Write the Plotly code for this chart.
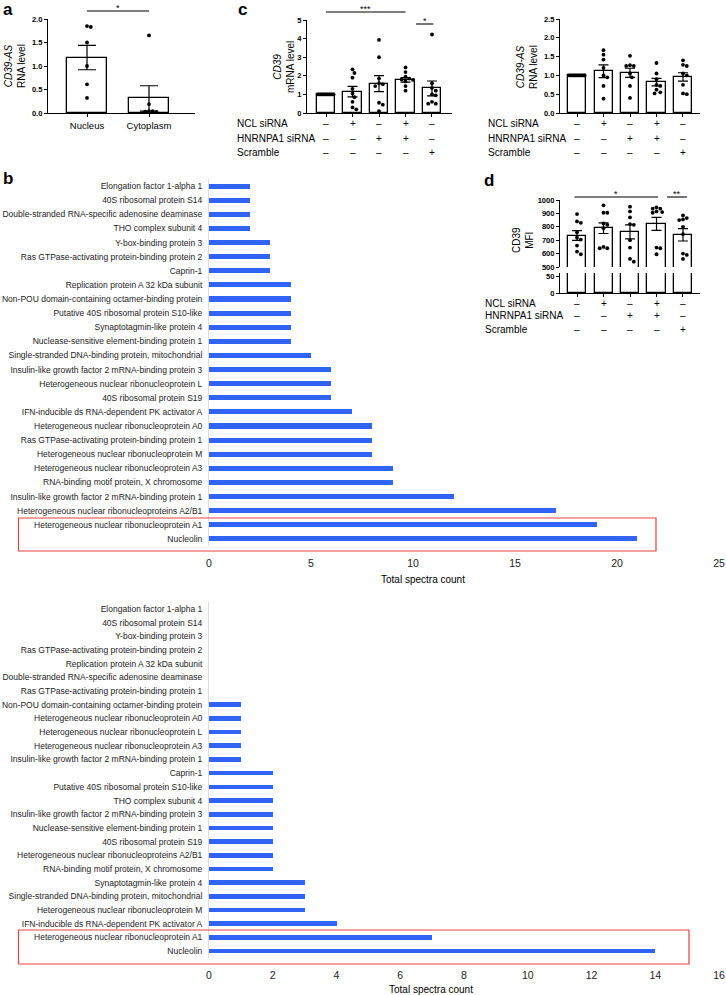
import plotly.graph_objects as go

W, H = 726, 995
FONT = "Liberation Sans"


def fx(p):
    return p / W


def fy(p):
    return 1 - p / H


# ---------------- data ----------------
a_groups = ["Nucleus", "Cytoplasm"]
a_means = [1.18, 0.31]
a_sem = [0.26, 0.27]
a_points = [[1.85, 1.83, 1.50, 1.00, 0.61, 0.32],
            [1.65, 0.19, 0.04, 0.03, 0.02, 0.04]]

row_labels = ["NCL siRNA", "HNRNPA1 siRNA", "Scramble"]
ncl_signs = ["–", "+", "–", "+", "–"]
hnr_signs = ["–", "–", "+", "+", "–"]
scr_signs = ["–", "–", "–", "–", "+"]

c1_means = [1.0, 1.15, 1.58, 1.78, 1.32]
c1_sem = [0.0, 0.28, 0.43, 0.12, 0.40]
c1_points = [[1.0] * 9,
             [2.35, 2.15, 1.90, 1.30, 1.05, 0.85, 0.60, 0.30, 0.20],
             [3.93, 3.00, 1.85, 1.60, 1.55, 1.45, 0.55, 0.45, 0.10],
             [2.45, 2.20, 1.95, 1.85, 1.80, 1.78, 1.70, 1.45, 1.20],
             [4.22, 1.60, 1.35, 1.20, 1.00, 0.95, 0.60, 0.50, 0.50]]

c2_means = [1.0, 1.11, 1.07, 0.82, 0.96]
c2_sem = [0.0, 0.17, 0.12, 0.10, 0.11]
c2_points = [[1.0] * 9,
             [1.67, 1.55, 1.42, 1.20, 1.00, 0.95, 0.72, 0.38],
             [1.52, 1.27, 1.25, 1.25, 1.05, 0.95, 0.72, 0.40],
             [1.33, 1.05, 0.90, 0.75, 0.72, 0.62, 0.55, 0.52],
             [1.40, 1.28, 1.25, 1.05, 1.00, 0.75, 0.52, 0.50]]

d_means = [735, 790, 762, 822, 740]
d_sem = [36, 40, 52, 48, 46]
d_points = [[895, 840, 830, 760, 720, 705, 660, 615, 595],
            [960, 905, 905, 825, 815, 790, 650, 640, 640],
            [950, 915, 870, 820, 815, 700, 645, 560, 540],
            [945, 935, 935, 915, 910, 905, 645, 640, 595],
            [885, 865, 855, 850, 800, 745, 600, 590, 560]]

b_top_proteins = [
    "Elongation factor 1-alpha 1", "40S ribosomal protein S14",
    "Double-stranded RNA-specific adenosine deaminase", "THO complex subunit 4",
    "Y-box-binding protein 3", "Ras GTPase-activating protein-binding protein 2",
    "Caprin-1", "Replication protein A 32 kDa subunit",
    "Non-POU domain-containing octamer-binding protein",
    "Putative 40S ribosomal protein S10-like", "Synaptotagmin-like protein 4",
    "Nuclease-sensitive element-binding protein 1",
    "Single-stranded DNA-binding protein, mitochondrial",
    "Insulin-like growth factor 2 mRNA-binding protein 3",
    "Heterogeneous nuclear ribonucleoprotein L", "40S ribosomal protein S19",
    "IFN-inducible ds RNA-dependent PK activator A",
    "Heterogeneous nuclear ribonucleoprotein A0",
    "Ras GTPase-activating protein-binding protein 1",
    "Heterogeneous nuclear ribonucleoprotein M",
    "Heterogeneous nuclear ribonucleoprotein A3",
    "RNA-binding motif protein, X chromosome",
    "Insulin-like growth factor 2 mRNA-binding protein 1",
    "Heterogeneous nuclear ribonucleoproteins A2/B1",
    "Heterogeneous nuclear ribonucleoprotein A1", "Nucleolin"]
b_top_counts = [2, 2, 2, 2, 3, 3, 3, 4, 4, 4, 4, 4, 5, 6, 6, 6, 7, 8, 8, 8,
                9, 9, 12, 17, 19, 21]

b_bot_proteins = [
    "Elongation factor 1-alpha 1", "40S ribosomal protein S14",
    "Y-box-binding protein 3", "Ras GTPase-activating protein-binding protein 2",
    "Replication protein A 32 kDa subunit",
    "Double-stranded RNA-specific adenosine deaminase",
    "Ras GTPase-activating protein-binding protein 1",
    "Non-POU domain-containing octamer-binding protein",
    "Heterogeneous nuclear ribonucleoprotein A0",
    "Heterogeneous nuclear ribonucleoprotein L",
    "Heterogeneous nuclear ribonucleoprotein A3",
    "Insulin-like growth factor 2 mRNA-binding protein 1",
    "Caprin-1", "Putative 40S ribosomal protein S10-like", "THO complex subunit 4",
    "Insulin-like growth factor 2 mRNA-binding protein 3",
    "Nuclease-sensitive element-binding protein 1", "40S ribosomal protein S19",
    "Heterogeneous nuclear ribonucleoproteins A2/B1",
    "RNA-binding motif protein, X chromosome", "Synaptotagmin-like protein 4",
    "Single-stranded DNA-binding protein, mitochondrial",
    "Heterogeneous nuclear ribonucleoprotein M",
    "IFN-inducible ds RNA-dependent PK activator A",
    "Heterogeneous nuclear ribonucleoprotein A1", "Nucleolin"]
b_bot_counts = [0, 0, 0, 0, 0, 0, 0, 1, 1, 1, 1, 1, 2, 2, 2, 2, 2, 2, 2, 2,
                3, 3, 3, 4, 7, 14]

BLUE = "#3063f6"


# ---------------- helpers ----------------
def swarm(values, px_per_unit, step=1.9, diam=3.8, maxoff=8.0):
    """Deterministic beeswarm offsets in pixels."""
    order = sorted(range(len(values)), key=lambda i: -values[i])
    placed = []
    res = [0.0] * len(values)
    cands = [0.0]
    k = 1
    while k * step <= maxoff + 1e-9:
        cands += [k * step, -k * step]
        k += 1
    for i in order:
        y = values[i] * px_per_unit
        chosen = None
        for o in cands:
            if all((o - px) ** 2 + (y - py) ** 2 >= diam ** 2 for px, py in placed):
                chosen = o
                break
        if chosen is None:
            best, bestd = 0.0, -1
            for o in cands:
                d = min([((o - px) ** 2 + (y - py) ** 2) for px, py in placed] or [1e9])
                if d > bestd:
                    best, bestd = o, d
            chosen = best
        placed.append((chosen, y))
        res[i] = chosen
    return res


fig = go.Figure()


def add_dot_panel(xa, ya, means, sems, points, px_cat, px_unit, bar_w, cap,
                  lower=None):
    n = len(means)
    xs = list(range(n))
    fig.add_trace(go.Bar(x=xs, y=means, width=bar_w, xaxis=xa, yaxis=ya,
                         marker=dict(color="white", line=dict(color="black", width=1.3)),
                         error_y=dict(type="data", array=sems, color="black",
                                      thickness=1.2, width=cap),
                         showlegend=False, hoverinfo="skip"))
    px_all, py_all = [], []
    for gi, vals in enumerate(points):
        offs = swarm(vals, px_unit)
        for v, o in zip(vals, offs):
            px_all.append(gi + o / px_cat)
            py_all.append(v)
    fig.add_trace(go.Scatter(x=px_all, y=py_all, mode="markers", xaxis=xa, yaxis=ya,
                             marker=dict(color="black", size=3.8),
                             showlegend=False, hoverinfo="skip"))
    if lower is not None:
        fig.add_trace(go.Bar(x=xs, y=means, width=bar_w, xaxis=lower[0], yaxis=lower[1],
                             marker=dict(color="white", line=dict(color="black", width=1.3)),
                             showlegend=False, hoverinfo="skip"))


# Panel a
add_dot_panel("x", "y", a_means, a_sem, a_points, 62, 47, 0.645, 9)
# Panel c (left)
add_dot_panel("x2", "y2", c1_means, c1_sem, c1_points, 26.5, 18.6, 0.68, 5)
# Panel c (right)
add_dot_panel("x3", "y3", c2_means, c2_sem, c2_points, 26.5, 37.6, 0.68, 5)
# Panel d
add_dot_panel("x4", "y4", d_means, d_sem, d_points, 26.5, 0.134, 0.68, 5,
              lower=("x5", "y5"))

# Panel b bars
fig.add_trace(go.Bar(x=b_top_counts, y=b_top_proteins, orientation="h", width=0.36,
                     marker=dict(color=BLUE, line=dict(width=0)), xaxis="x6", yaxis="y6",
                     showlegend=False, hoverinfo="skip"))
fig.add_trace(go.Bar(x=b_bot_counts, y=b_bot_proteins, orientation="h", width=0.34,
                     marker=dict(color=BLUE, line=dict(width=0)), xaxis="x7", yaxis="y7",
                     showlegend=False, hoverinfo="skip"))

# ---------------- axes ----------------
small_tick = dict(family=FONT, size=7.5, color="black", weight="bold")
base_x = dict(showline=True, linecolor="black", linewidth=1.2, ticks="outside",
              ticklen=3, tickwidth=1.1, tickcolor="black", showgrid=False,
              zeroline=False, fixedrange=True, automargin=False)
base_y = dict(showline=True, linecolor="black", linewidth=1.2, ticks="outside",
              ticklen=3, tickwidth=1.1, tickcolor="black", showgrid=False,
              zeroline=False, fixedrange=True, tickfont=small_tick, automargin=False)

layout = dict(
    width=W, height=H, margin=dict(l=0, r=0, t=0, b=0, autoexpand=False),
    paper_bgcolor="white", plot_bgcolor="rgba(0,0,0,0)",
    font=dict(family=FONT, color="black"), bargap=0, barmode="overlay",
    xaxis=dict(base_x, domain=[fx(48), fx(195)], range=[-0.629, 1.742], anchor="y",
               tickvals=[0, 1], ticktext=a_groups,
               tickfont=dict(family=FONT, size=9.5, color="black")),
    yaxis=dict(base_y, domain=[fy(113), fy(19)], range=[0, 2.0], anchor="x",
               tickvals=[0, 0.5, 1.0, 1.5, 2.0], tickformat=".1f"),
    xaxis2=dict(base_x, domain=[fx(307), fx(452)], range=[-0.717, 4.755], anchor="y2",
                tickvals=[0, 1, 2, 3, 4], showticklabels=False),
    yaxis2=dict(base_y, domain=[fy(113), fy(20)], range=[0, 5], anchor="x2",
                tickvals=[0, 1, 2, 3, 4, 5]),
    xaxis3=dict(base_x, domain=[fx(560), fx(700)], range=[-0.642, 4.642], anchor="y3",
                tickvals=[0, 1, 2, 3, 4], showticklabels=False),
    yaxis3=dict(base_y, domain=[fy(113), fy(19)], range=[0, 2.5], anchor="x3",
                tickvals=[0, 0.5, 1.0, 1.5, 2.0, 2.5], tickformat=".1f"),
    xaxis4=dict(domain=[fx(560), fx(700)], range=[-0.642, 4.642], anchor="y4",
                showline=False, showticklabels=False, ticks="", showgrid=False,
                zeroline=False, fixedrange=True, automargin=False),
    yaxis4=dict(base_y, domain=[fy(267), fy(200)], range=[500, 1000], anchor="x4",
                tickvals=[500, 600, 700, 800, 900, 1000]),
    xaxis5=dict(base_x, domain=[fx(560), fx(700)], range=[-0.642, 4.642], anchor="y5",
                tickvals=[0, 1, 2, 3, 4], showticklabels=False),
    yaxis5=dict(base_y, domain=[fy(293), fy(273)], range=[0, 60], anchor="x5",
                tickvals=[0, 50]),
    xaxis6=dict(domain=[fx(209), fx(719)], range=[0, 25], anchor="y6",
                tickvals=[0, 5, 10, 15, 20, 25], showline=False, ticks="",
                showgrid=False, zeroline=False, ticklabelstandoff=9, automargin=False,
                ticklabeloverflow="allow",
                tickfont=dict(family=FONT, size=10.5, color="#222"), fixedrange=True),
    yaxis6=dict(domain=[fy(546), fy(179)], type="category",
                categoryarray=b_top_proteins, categoryorder="array",
                range=[len(b_top_proteins) - 0.5, -0.5], anchor="x6",
                showline=True, linecolor="#dcdcdc", linewidth=1, ticks="",
                ticklabelstandoff=4, showgrid=False, fixedrange=True, automargin=False,
                tickfont=dict(family=FONT, size=8.5, color="#222")),
    xaxis7=dict(domain=[fx(209), fx(719)], range=[0, 16], anchor="y7",
                tickvals=list(range(0, 17, 2)), showline=False, ticks="",
                showgrid=False, zeroline=False, ticklabelstandoff=9, automargin=False,
                ticklabeloverflow="allow",
                tickfont=dict(family=FONT, size=10.5, color="#222"), fixedrange=True),
    yaxis7=dict(domain=[fy(958), fy(602)], type="category",
                categoryarray=b_bot_proteins, categoryorder="array",
                range=[len(b_bot_proteins) - 0.5, -0.5], anchor="x7",
                showline=True, linecolor="#dcdcdc", linewidth=1, ticks="",
                ticklabelstandoff=4, showgrid=False, fixedrange=True, automargin=False,
                tickfont=dict(family=FONT, size=8.5, color="#222")),
)
fig.update_layout(**layout)

# ---------------- annotations & shapes ----------------
ann = []
shapes = []


def text(x, y, s, size=10, xanchor="center", yanchor="middle", angle=0,
         xref="paper", bold=False):
    ann.append(dict(x=x, y=y, xref=xref, yref="paper", text=s, showarrow=False,
                    xanchor=xanchor, yanchor=yanchor, textangle=angle,
                    font=dict(family=FONT, size=size, color="black",
                              weight="bold" if bold else "normal")))


# panel letters
text(fx(1), fy(9), "a", size=17, xanchor="left", bold=True)
text(fx(236), fy(9), "c", size=17, xanchor="left", bold=True)
text(fx(1), fy(178), "b", size=17, xanchor="left", bold=True)
text(fx(482), fy(180), "d", size=17, xanchor="left", bold=True)

# y titles
text(fx(15), fy(66), "<i>CD39-AS</i><br>RNA level", size=10, angle=-90)
text(fx(284), fy(67), "<i>CD39</i><br>mRNA level", size=10, angle=-90)
text(fx(527), fy(67), "<i>CD39-AS</i><br>RNA level", size=10, angle=-90)
text(fx(523), fy(240), "CD39<br>MFI", size=10, angle=-90)


def sig(xref, x0, x1, yline, star):
    shapes.append(dict(type="line", xref=xref, yref="paper", x0=x0, x1=x1,
                       y0=fy(yline), y1=fy(yline), line=dict(color="black", width=1.1)))
    ann.append(dict(x=(x0 + x1) / 2, y=fy(yline - 3), xref=xref, yref="paper",
                    text=star, showarrow=False, yanchor="middle",
                    font=dict(family=FONT, size=9, color="black")))


sig("x", 0, 1, 11, "*")
sig("x2", 0, 3, 12, "***")
sig("x2", 3.4, 4.05, 24, "*")
sig("x4", -0.1, 3.06, 197, "*")
sig("x4", 3.4, 4.15, 197, "**")

# condition rows
def cond_rows(xref, xlab, ys):
    for lab, signs, yy in zip(row_labels, [ncl_signs, hnr_signs, scr_signs], ys):
        text(fx(xlab), fy(yy), lab, size=10, xanchor="left")
        for i, s in enumerate(signs):
            text(i, fy(yy), s, size=10, xref=xref)


cond_rows("x2", 235, [124, 138, 152])
cond_rows("x3", 486, [124, 138, 152])
cond_rows("x5", 483, [303, 316, 329])

# x titles of b
text(fx(423), fy(579), "Total spectra count", size=10)
text(fx(431), fy(989), "Total spectra count", size=10)

# red boxes
for (x0, y0, x1, y1) in [(18.5, 518, 656, 551), (18.5, 930, 689, 964)]:
    shapes.append(dict(type="rect", xref="paper", yref="paper", x0=fx(x0), x1=fx(x1),
                       y0=fy(y1), y1=fy(y0), line=dict(color="#e8423f", width=1.2)))

fig.update_layout(annotations=ann, shapes=shapes)
fig.write_html("out.html", config={"displayModeBar": False},
               post_script="document.body.style.margin='0';"
                           "document.body.style.overflow='hidden';")
